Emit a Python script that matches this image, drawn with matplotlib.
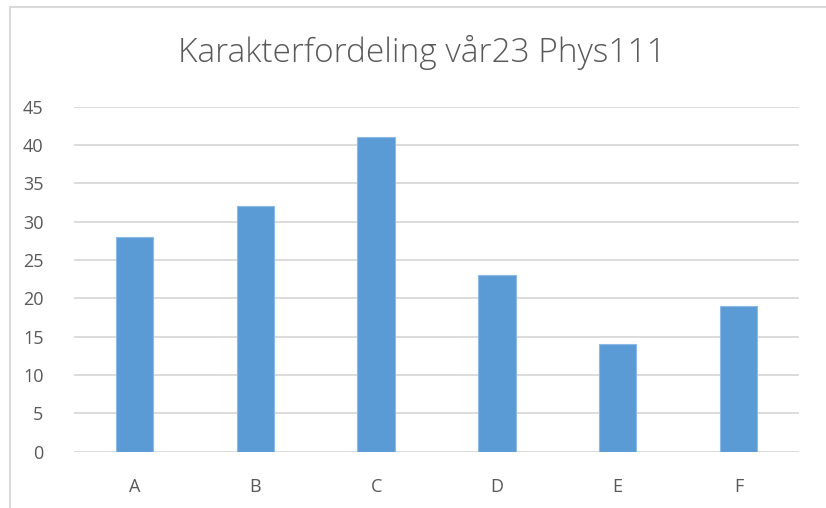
import matplotlib.pyplot as plt
from matplotlib.lines import Line2D

plt.rcParams['font.family'] = ['Open Sans', 'DejaVu Sans']

grades = ['A', 'B', 'C', 'D', 'E', 'F']
counts = [28, 32, 41, 23, 14, 19]
yticks = [0, 5, 10, 15, 20, 25, 30, 35, 40, 45]

W, H = 826, 508
fig = plt.figure(figsize=(W / 100, H / 100), dpi=100)
ax = fig.add_axes([74 / W, (H - 451.7) / H, (799 - 74) / W, (451.7 - 106.7) / H])

ax.bar(range(len(grades)), counts, width=0.31, color='#5B9BD5',
       edgecolor='#8DB9E6', linewidth=0.8, zorder=3)

ax.set_xlim(-0.5, len(grades) - 0.5)
ax.set_ylim(0, 45)
ax.set_yticks(yticks)
ax.set_xticks(range(len(grades)))
ax.set_xticklabels(grades)
ax.grid(axis='y', color='#D9D9D9', linewidth=1.3, zorder=0)
for s in ax.spines.values():
    s.set_visible(False)
ax.tick_params(length=0, colors='#595959', labelsize=13)
ax.tick_params(axis='y', pad=22)
ax.tick_params(axis='x', pad=19)

fig.text(0.511, (H - 52) / H, 'Karakterfordeling vår23 Phys111',
         ha='center', va='center', fontsize=24, color='#595959', fontweight='light')

# outer chart frame (top and left edges visible in the screenshot)
fig.add_artist(Line2D([10 / W, 1], [(H - 7) / H] * 2, color='#D9D9D9', linewidth=1.5))
fig.add_artist(Line2D([10 / W] * 2, [0, (H - 7) / H], color='#D9D9D9', linewidth=1.5))

fig.savefig('out.png', dpi=100)
